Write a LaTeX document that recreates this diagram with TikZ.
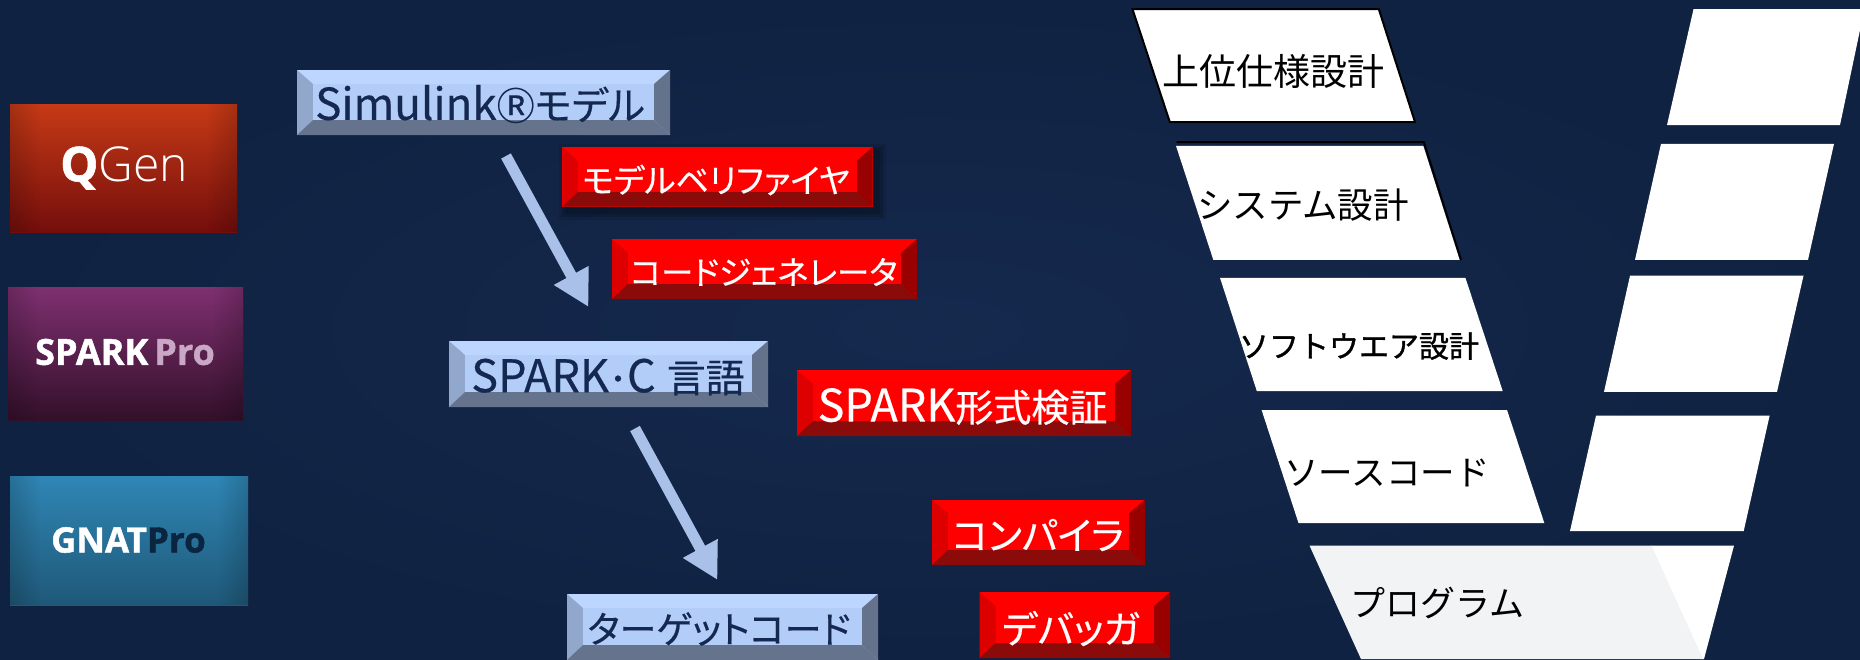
\documentclass[tikz,border=0pt]{standalone}
\usepackage{fontspec}
\setmainfont{Noto Sans CJK JP}
\newfontfamily\tightjp[RawFeature=+palt,FakeBold=0.4]{Noto Sans CJK JP}
\newfontfamily\medjp[FakeBold=1.1]{Noto Sans CJK JP}
\newfontfamily\logofont[BoldFeatures={FakeBold=1.2}]{Open Sans}
\newfontfamily\logolight{Open Sans Light}
\usetikzlibrary{arrows.meta,fadings}
\definecolor{bgin}{HTML}{15294E}
\definecolor{bgout}{HTML}{102241}
\definecolor{navytext}{HTML}{142850}
\definecolor{blueT}{HTML}{BDD6FF}
\definecolor{blueI}{HTML}{B2CDF8}
\definecolor{blueL}{HTML}{92A7CC}
\definecolor{blueR}{HTML}{65728C}
\definecolor{blueB}{HTML}{66738D}
\definecolor{redT}{HTML}{FF0000}
\definecolor{redI}{HTML}{FF0000}
\definecolor{redL}{HTML}{DD0000}
\definecolor{redR}{HTML}{990000}
\definecolor{redB}{HTML}{8B0A0A}
\definecolor{arrowblue}{HTML}{A9C1E8}
\definecolor{greypanel}{HTML}{F2F3F5}
\definecolor{prolilac}{HTML}{C9A8C6}
\definecolor{prodark}{HTML}{0A2540}
\definecolor{qgenT}{HTML}{C63A16}
\definecolor{qgenM}{HTML}{A32610}
\definecolor{qgenB}{HTML}{740E0C}
\definecolor{sparkT}{HTML}{7E3070}
\definecolor{sparkM}{HTML}{58204F}
\definecolor{sparkB}{HTML}{33102A}
\definecolor{gnatT}{HTML}{2F86B5}
\definecolor{gnatM}{HTML}{276F98}
\definecolor{gnatB}{HTML}{1F5878}
\newcommand{\fs}[1]{\fontsize{#1}{#1}\selectfont}
\newcommand{\bevel}[5]{%
  \fill[#1T] (#2,#3) rectangle (#4,#5);
  \fill[#1L] (#2,#3) -- ({#2+16},{#3+14}) -- ({#2+16},{#5-15}) -- (#2,#5) -- cycle;
  \fill[#1R] (#4,#3) -- ({#4-16},{#3+14}) -- ({#4-16},{#5-15}) -- (#4,#5) -- cycle;
  \fill[#1B] (#2,#5) -- ({#2+16},{#5-15}) -- ({#4-16},{#5-15}) -- (#4,#5) -- cycle;
  \fill[#1I] ({#2+16},{#3+14}) rectangle ({#4-16},{#5-15});
}
\newcommand{\vignette}[4]{%
  \fill[black,opacity=.16,path fading=east] (#1,#2) rectangle ({#1+30},#4);
  \fill[black,opacity=.16,path fading=west] ({#3-30},#2) rectangle (#3,#4);
}
\tikzset{
  bluetext/.style={text=navytext,inner sep=0pt,font=\tightjp},
  redtext/.style={text=white,inner sep=0pt,font=\tightjp},
  vtext/.style={text=black,inner sep=0pt},
  flow/.style={draw=arrowblue,line width=11pt,-{Triangle[length=36pt,width=37pt]}},
  whitepanel/.style={fill=white},
  logo/.style={inner sep=0pt,text=white}
}
\begin{document}
\begin{tikzpicture}[x=1pt,y=-1pt]
\useasboundingbox (0,0) rectangle (1860,659);
\shade[inner color=bgin,outer color=bgout] (0,0) rectangle (1860,659);

% logos
\shade[top color=qgenT,middle color=qgenM,bottom color=qgenB] (10,104) rectangle (237,232);
\vignette{10}{104}{237}{232}
\shade[top color=sparkT,middle color=sparkM,bottom color=sparkB] (8,287) rectangle (243,420);
\vignette{8}{287}{243}{420}
\shade[top color=gnatT,middle color=gnatM,bottom color=gnatB] (10,476) rectangle (248,605);
\vignette{10}{476}{248}{605}
\node[logo] (qgen) at (124,168) {\fs{48}{\logofont\bfseries Q}{\logolight Gen}};
\node[logo,font=\logofont\fs{36}\bfseries] (sparkpro) at (125,352) {SPARK\,\textcolor{prolilac}{Pro}};
\node[logo,font=\logofont\fs{35}\bfseries] (gnatpro) at (128.5,540) {GNAT\textcolor{prodark}{Pro}};

% blue boxes
\bevel{blue}{297}{70}{670}{135}
\node[bluetext] (simulink) at (480,104) {\fs{44}Simulink\fs{38}Ⓡ\fs{39}モデル};
\bevel{blue}{449}{341}{768}{407}
\node[bluetext] (sparkc) at (608,377) {\fs{45}SPARK\fs{36}･\fs{45}C\hspace{11pt}\fs{39}言語};
\bevel{blue}{567}{594}{878}{660}
\node[bluetext,font=\tightjp\fs{37}] (target) at (719,629) {ターゲットコード};

% arrows
\coordinate (a1s) at (506,156);
\coordinate (a1e) at (588.5,307);
\coordinate (a2s) at (635,428.5);
\coordinate (a2e) at (717.5,580);
\draw[flow] (a1s) -- (a1e);
\draw[flow] (a2s) -- (a2e);

% red boxes
\foreach \k/\o in {10/.10,7/.14,4/.16}{
  \fill[black,opacity=\o] ({562.4+7-\k},{147+7-\k}) rectangle ({872.6+3+\k},{206.6+3+\k});
}
\bevel{red}{562.4}{147}{872.6}{206.6}
\node[redtext,font=\tightjp\fs{33}] (verifier) at (716,180) {モデルベリファイヤ};
\bevel{red}{612}{239}{917}{299}
\node[redtext,font=\tightjp\fs{32.5}] (generator) at (764,272) {コードジェネレータ};
\bevel{red}{797}{370}{1131}{436}
\node[redtext] (proof) at (962.5,406.5) {\fs{45}SPARK\fs{38}形式検証};
\bevel{red}{932}{499.5}{1145}{565}
\node[redtext,font=\tightjp\fs{38}] (compiler) at (1038,535) {コンパイラ};
\bevel{red}{979.5}{592}{1170}{658}
\node[redtext,font=\tightjp\fs{38}] (debugger) at (1071,628.5) {デバッガ};

% V model left
\draw[black,line width=2pt,fill=white] (1132.5,9.2) -- (1378.8,9.2) -- (1415,122) -- (1169.8,122) -- cycle;
\draw[black,line width=2pt] (1176.5,142) -- (1423.8,142) -- (1461,260);
\fill[whitepanel] (1176,145.9) -- (1423.3,145.9) -- (1459.6,259.8) -- (1213.3,259.8) -- cycle;
\fill[whitepanel] (1220,277.8) -- (1465.4,277.8) -- (1502.7,391) -- (1256.8,391) -- cycle;
\fill[whitepanel] (1261.6,410) -- (1507,410) -- (1544.3,523) -- (1298.5,523) -- cycle;
\fill[whitepanel] (1651,545.6) -- (1734,545.6) -- (1704,659) -- (1700,659) -- cycle;
\fill[greypanel] (1309.5,545.6) -- (1651.4,545.6) -- (1703,659) -- (1361,659) -- cycle;
\node[vtext,font=\fs{37}] (upper) at (1273,71) {上位仕様設計};
\node[vtext,font=\fs{35.5}] (system) at (1303,205.5) {システム設計};
\node[vtext,font=\medjp\fs{30}] (software) at (1359,346) {ソフトウエア設計};
\node[vtext,font=\fs{34.5}] (source) at (1387,473) {ソースコード};
\node[vtext,font=\fs{35}] (program) at (1437.5,603) {プログラム};

% V model right
\fill[whitepanel] (1693.5,9.2) -- (1860,9.2) -- (1860,30) -- (1840,125) -- (1667,125) -- cycle;
\fill[whitepanel] (1661,143.8) -- (1834,143.8) -- (1808,259.8) -- (1635,259.8) -- cycle;
\fill[whitepanel] (1630,275.7) -- (1803.5,275.7) -- (1777,391.8) -- (1604,391.8) -- cycle;
\fill[whitepanel] (1596,415.7) -- (1769.6,415.7) -- (1743.7,531) -- (1570,531) -- cycle;
\end{tikzpicture}
\end{document}
